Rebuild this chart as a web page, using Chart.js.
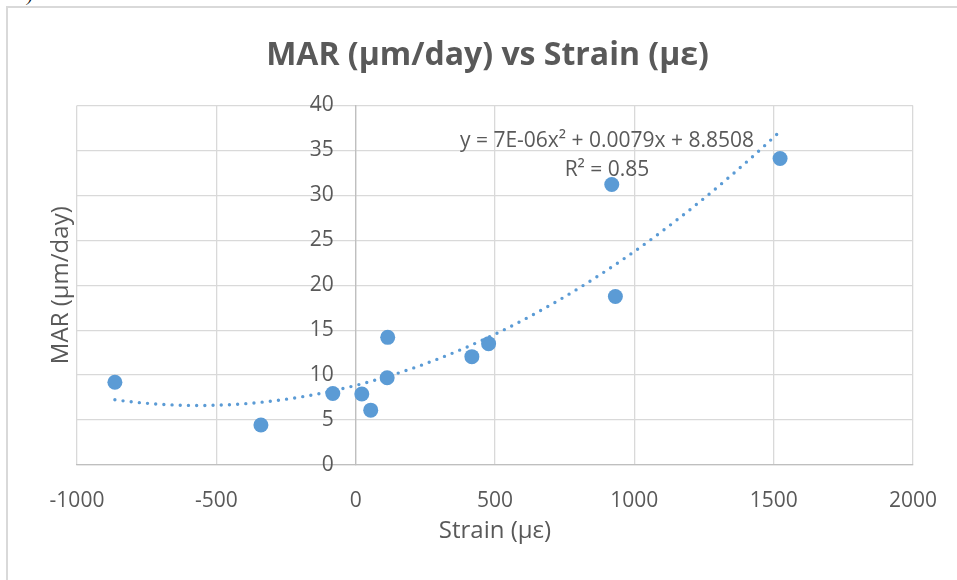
<!DOCTYPE html>
<html>
<head>
<meta charset="utf-8">
<title>MAR (µm/day) vs Strain (µε)</title>
<script src="https://cdn.jsdelivr.net/npm/chart.js@4.4.1/dist/chart.umd.min.js"></script>
<style>
  html, body { margin: 0; padding: 0; background: #fff; overflow: hidden; }
  /* light frame of the embedded chart object */
  #frame { position: absolute; left: 6px; top: 6px; width: 1000px; height: 1000px; border: 2px solid #d9d9d9; }
  /* bottom of a caption bracket cut off above the chart */
  #cut { position: absolute; left: 27px; top: -15px; font: italic 18px "Liberation Serif", serif; color: #000; }
  #chart { position: absolute; left: 0; top: 0; }
</style>
</head>
<body>
<div id="frame"></div>
<span id="cut">)</span>
<canvas id="chart" width="957" height="580"></canvas>
<script>
// strain (µε) and mineral apposition rate (µm/day), one entry per specimen
const strain = [-864, -340, -82, 22, 54, 115, 113, 417, 477, 919, 932, 1523];
const mar = [9.2, 4.45, 7.95, 7.9, 6.1, 14.2, 9.7, 12.05, 13.5, 31.2, 18.75, 34.1];

// 2nd order polynomial trendline as printed on the chart: c0 + c1*x + c2*x^2
const trendCoef = [8.8508, 0.0079, 7e-6];
const trendText = ["y = 7E-06x² + 0.0079x + 8.8508", "R² = 0.85"];

const xTicks = [-1000, -500, 0, 500, 1000, 1500, 2000];
const yTicks = [0, 5, 10, 15, 20, 25, 30, 35, 40];

const blue = "#5B9BD5";
const textGrey = "#595959";
const gridGrey = "#d9d9d9";
const axisGrey = "#bfbfbf";

Chart.defaults.font.family = "'Open Sans', sans-serif";
Chart.defaults.color = textGrey;

// trendline spans the range of the measured strains
const points = strain.map((x, i) => ({ x: x, y: mar[i] }));
const xLo = Math.min(...strain);
const xHi = Math.max(...strain);
const trend = [];
for (let i = 0; i <= 120; i++) {
  const x = xLo + (xHi - xLo) * i / 120;
  trend.push({ x: x, y: trendCoef[0] + trendCoef[1] * x + trendCoef[2] * x * x });
}

// equation + R² box, Excel puts it near the end of the trendline
const trendLabel = {
  id: "trendLabel",
  beforeDatasetsDraw(chart) {
    const ctx = chart.ctx;
    ctx.save();
    ctx.font = "21px 'Open Sans', sans-serif";
    ctx.fillStyle = textGrey;
    ctx.textAlign = "center";
    ctx.textBaseline = "middle";
    ctx.fillText(trendText[0], 607, 141);
    ctx.fillText(trendText[1], 607, 170);
    ctx.restore();
  }
};

// value labels of the vertical axis, sitting left of the x = 0 crossing line
const yAxisLabels = {
  id: "yAxisLabels",
  afterDraw(chart) {
    const ctx = chart.ctx;
    const xs = chart.scales.x;
    const ys = chart.scales.y;
    const x0 = xs.getPixelForValue(0);
    ctx.save();
    ctx.font = "21px 'Open Sans', sans-serif";
    ctx.fillStyle = textGrey;
    ctx.textAlign = "right";
    ctx.textBaseline = "middle";
    yTicks.forEach((v) => ctx.fillText(String(v), x0 - 22, ys.getPixelForValue(v)));
    ctx.restore();
  }
};

new Chart(document.getElementById("chart"), {
  type: "scatter",
  data: {
    datasets: [
      {
        label: "MAR",
        data: points,
        backgroundColor: blue,
        borderColor: blue,
        borderWidth: 0,
        pointRadius: 7.5,
        pointHoverRadius: 7.5
      },
      {
        label: "Poly. (MAR)",
        data: trend,
        showLine: true,
        borderColor: blue,
        borderWidth: 3.4,
        borderDash: [0, 8.2],
        borderCapStyle: "round",
        pointRadius: 0,
        fill: false
      }
    ]
  },
  options: {
    responsive: false,
    animation: false,
    events: [],
    layout: { padding: { left: 18, right: 0, top: 0, bottom: 0 } },
    plugins: {
      legend: { display: false },
      tooltip: { enabled: false },
      title: {
        display: true,
        text: "MAR (µm/day) vs Strain (µε)",
        color: textGrey,
        font: { size: 32, weight: "bold" },
        padding: { top: 37, bottom: 30 }
      }
    },
    scales: {
      x: {
        type: "linear",
        position: "bottom",
        min: xTicks[0],
        max: xTicks[xTicks.length - 1],
        afterBuildTicks: (s) => { s.ticks = xTicks.map((v) => ({ value: v })); },
        afterFit: (s) => {
          s.height = 115;
          // side strips are set by the boxes below, not by the end labels
          s.paddingLeft = 0;
          s.paddingRight = 0;
        },
        grid: { color: gridGrey, lineWidth: 1.3, drawTicks: false },
        border: { color: axisGrey, width: 1.3 },
        ticks: { color: textGrey, font: { size: 21 }, padding: 23, callback: (v) => String(v) },
        title: {
          display: true,
          text: "Strain (µε)",
          color: textGrey,
          font: { size: 24 },
          padding: { top: 0, bottom: 34 }
        }
      },
      y: {
        type: "linear",
        position: { x: 0 },
        min: yTicks[0],
        max: yTicks[yTicks.length - 1],
        afterBuildTicks: (s) => { s.ticks = yTicks.map((v) => ({ value: v })); },
        grid: { color: gridGrey, lineWidth: 1.3, drawTicks: false },
        border: { color: axisGrey, width: 1.3 },
        ticks: { display: false }
      },
      // left box only carries the vertical axis title
      yTitle: {
        axis: "y",
        position: "left",
        afterFit: (s) => { s.width = 59; },
        grid: { display: false },
        border: { display: false },
        ticks: { display: false },
        title: {
          display: true,
          text: "MAR (µm/day)",
          color: textGrey,
          font: { size: 24 },
          padding: { top: 29, bottom: 0 }
        }
      },
      // empty strip right of the plot area
      yRight: {
        axis: "y",
        position: "right",
        afterFit: (s) => { s.width = 44; },
        grid: { display: false },
        border: { display: false },
        ticks: { display: false }
      }
    }
  },
  plugins: [trendLabel, yAxisLabels]
});
</script>
</body>
</html>
